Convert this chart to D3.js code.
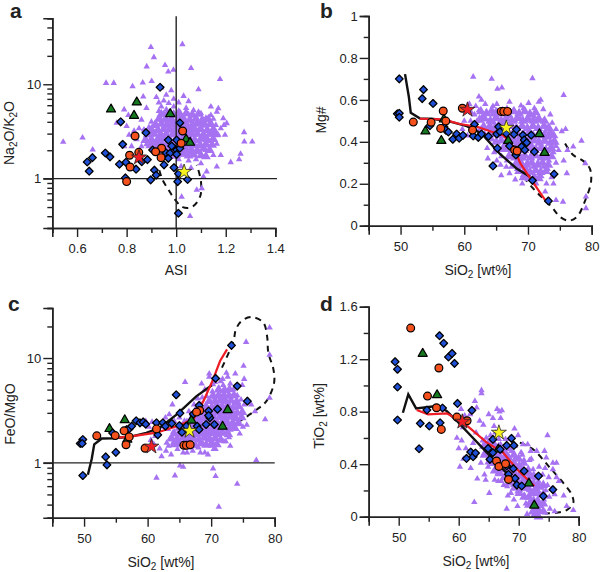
<!DOCTYPE html>
<html><head><meta charset="utf-8">
<script src="https://cdn.jsdelivr.net/npm/d3@7/dist/d3.min.js"></script>
<style>html,body{margin:0;padding:0;background:#fff}svg{display:block}text{font-family:"Liberation Sans",Arial,sans-serif;fill:#222}</style>
</head><body><div id="c"></div>
<script>
// ---- panel a: ASI vs Na2O/K2O
const purpleA=[[.898,24.7],[1.025,26.5],[.91,19.3],[.881,15.4],[.955,15.9],[.989,14.2],[.968,13.6],[1.06,14.8],[1.177,11.3],[.717,10.3],[.748,10.3],[.824,9.5],[.865,10.4],[.901,10.8],[1.09,8.8],[.544,2.45],[.622,2.72],[.663,2.03],[1.307,2.46],[1.274,3.1],[1.275,2.46],[1.26,1.83],[1.254,1.6],[1.22,1.49],[1.204,3.86],[1.19,4.35],[1.193,3.7],[1.17,5.55],[1.164,5.1],[1.14,5.8],[1.197,2.9],[1.164,2.33],[1.18,1.77],[1.15,1.77],[1.164,1.34],[1.123,1.19],[1.103,.79],[1.083,.76],[1.056,.4],[1.022,.64],[1.11,1.05],[.79,5.4],[.807,4.7],[.76,3.9],[.81,2.9],[.79,2.2],[.86,4.2],[.88,5.6],[.867,7.4],[.85,3.4],[.83,3.2],[.8,3.6],[.84,2.6],[.82,2.2],[.86,2.2],[.88,2.3],
[.88,2.6],[.9,2.4],[.92,2.2],[.9,2.9],[.87,3.3],[.89,3.5],[.91,3.1],[.93,2.7],[.94,2.4],[.95,2.1],[.96,1.85],[.93,3.3],[.92,3.8],[.94,4.2],[.9,4],[.95,3.6],[.96,3],[.97,2.6],[.98,2.9],[.99,2.4],[.97,3.4],[.98,3.9],[.96,4.4],[.95,4.9],[.93,5.2],[.94,5.8],[.96,5.4],[.98,4.7],[1,4.2],[1.01,3.6],[1,3.1],[1.01,2.7],[1.02,2.3],[1.03,2.9],[1.04,3.4],[1.03,4],[1.02,4.6],[1.01,5.2],[.99,5.8],[.97,6.3],[.95,6.7],[.93,6.4],[.92,7.3],[.96,7.7],[.99,7],[1.01,6.4],[1.04,5.6],[1.05,4.8],[1.06,4.1],[1.07,3.6],[1.05,3.1],[1.06,2.6],[1.04,2.1],[1.03,1.8],[1.01,1.6],[1.05,1.55],[1.07,2.2],[1.08,2.9],[1.09,3.3],[1.1,3.9],[1.08,4.5],[1.1,4.9],[1.12,4.4],[1.13,3.7],[1.12,3.2],[1.11,2.7],[1.1,2.3],[1.09,1.9],[1.12,2],[1.14,2.5],[1.15,3.1],[1.16,3.7],[1.15,4.3],[1.07,5.3],[.98,8.6],[.94,9.2],[1.03,7.5],[1.05,6.6],[1.08,1.6],[1.02,1.35],[1.06,1.3],[.99,1.7],[1.1,1.45],[.97,2.2],[1,2.2],[1.04,2.6],[1.07,2.9],[1.02,3.3],[.94,3],[.91,3.6],[.96,3.8],[1,3.7],[1.03,3.6],[1.06,3.4],[.99,3.4],[1.02,3.9],[1.13,2.9],[1.14,4.7],[1.18,3.4],[1.08,3.9],[1.09,2.5],[1.06,1.9],[1.12,2.4],[1.17,2.9],[.96,2.4],[.92,2.5],[.89,3]];
const purpleCoreA=[[.97,1.8],[1,1.78],[1.03,1.83],[1.05,1.75],[1.07,1.8],[1.1,1.76],[1.12,1.72],[.93,2],[.96,2.06],[.985,2],[1.01,2.05],[1.035,1.98],[1.06,2.04],[1.085,2],[1.11,2.08],[1.135,2],[.895,2.25],[.92,2.33],[.945,2.27],[.97,2.32],[.995,2.25],[1.02,2.35],[1.045,2.28],[1.07,2.33],[1.095,2.26],[1.12,2.3],[1.145,2.28],[.875,2.55],[.9,2.62],[.925,2.58],[.95,2.66],[.975,2.56],[1,2.63],[1.025,2.57],[1.05,2.65],[1.075,2.58],[1.1,2.63],[1.125,2.6],[1.15,2.62],[.885,2.92],[.91,2.98],[.935,2.9],[.96,2.97],[.985,2.93],[1.01,2.99],[1.035,2.9],[1.06,2.95],[1.085,3],[1.11,2.92],[1.135,2.98],[1.16,2.95],[.9,3.3],[.925,3.25],[.95,3.35],[.975,3.28],[1,3.33],[1.025,3.27],[1.05,3.36],[1.075,3.28],[1.1,3.33],[1.125,3.26],[1.15,3.35],[.915,3.72],[.94,3.8],[.965,3.7],[.99,3.78],[1.015,3.72],[1.04,3.82],[1.065,3.74],[1.09,3.8],[1.115,3.7],[1.14,3.78],[.93,4.3],[.955,4.2],[.98,4.28],[1.005,4.2],[1.03,4.32],[1.055,4.22],[1.08,4.3],[1.105,4.2],[1.13,4.25],[.94,4.8],[.965,4.9],[.99,4.75],[1.015,4.85],[1.04,4.9],[1.065,4.75],[1.09,4.85]];
const blueA=[[.935,9.3],[.776,4],[1.015,3.9],[.878,3.07],[.784,2.31],[.968,2.57],[1.002,2.57],[.714,1.87],[.733,1.7],[.662,1.67],[.641,1.5],[.649,1.2],[.771,1.42],[.797,1.49],[.838,1.26],[.795,1.02],[.861,1.51],[.884,1.59],[.905,2.01],[.912,1.23],[.919,1.09],[.897,.97],[.951,1.4],[.991,1.31],[1.009,1.13],[1.006,.93],[1.046,.98],[1.009,.43],[.982,2.22],[1.002,2.01],[.959,1.88],[.975,1.86],[.968,1.64],[1.002,1.81],[1.015,2.1]];
const orangeA=[[1.026,3.2],[.834,2.83],[1.02,2.37],[.941,2.1],[.917,1.93],[.939,1.67],[.849,1.9],[.812,1.77],[.814,1.33],[.8,.93]];
const greenA=[[.737,5.43],[.841,6.45],[.83,4.65],[.976,4.85],[1.04,2.61],[1.056,2.41]];
const redStarA=[[.85,1.68]], yellowStarA=[[1.032,1.18]];
const dashedA=[[.932,1.23],[.945,.97],[.968,.77],[.995,.6],[1.026,.5],[1.063,.5],[1.096,.64],[1.1,.93],[1.083,1.4]];
// ---- panel b: SiO2 vs Mg#
const purpleB=[[61.4,.71],[64.3,.7],[70.7,.703],[65.9,.658],[65.2,.652],[68.9,.572],[75.6,.623],[78.4,.405],[77.1,.377],[79,.297],[79.1,.138],[79.1,.083],[75.5,.114],[74.4,.122],[72.7,.162],[74,.2],[76.1,.25],[75.6,.31],[75.3,.45],[75.9,.46],[76.2,.36],[74.8,.36],[62.3,.615],[62.7,.6],[63.3,.58],[60.8,.58],[60.2,.56],[61.8,.57],[61.1,.54],[60,.5],[59.7,.46],[60.5,.43],[64.5,.57],[65.1,.58],[67.1,.59],[71.7,.59],[72,.6],[70.1,.585],[71,.56],[72.4,.555],[73.5,.53],[73.8,.49],[74.4,.46],[63.7,.32],[65.1,.31],[65.7,.29],[66.6,.28],[63.6,.37],[65.8,.24],[67.1,.25],[68,.22],[69.1,.2],[71.3,.2],[72.9,.2],[73.7,.23],[72.1,.235],[73.1,.27],[74.4,.3],
[61,.5],[61.6,.53],[62,.5],[62.3,.55],[62.8,.52],[63,.48],[63.4,.54],[63.9,.5],[64,.46],[64.4,.53],[64.7,.49],[65,.55],[65.3,.51],[65.7,.47],[66,.53],[66.3,.49],[66.7,.56],[67,.52],[67.2,.47],[67.7,.55],[68,.5],[68.3,.46],[68.7,.53],[69,.48],[69.3,.56],[69.7,.5],[70,.46],[70.3,.54],[70.7,.48],[71,.52],[71.4,.46],[71.7,.5],[72,.44],[72.4,.5],[72.7,.45],[73,.47],[73.3,.42],[73.7,.44],[74.1,.41],[74.4,.38],[74,.35],[73.6,.38],[73.2,.36],[73,.32],[72.7,.4],[72.3,.37],[72,.33],[72.4,.28],[71.7,.41],[71.3,.37],[71.6,.3],[71,.42],[70.7,.38],[70.4,.33],[70.8,.28],[70.2,.42],[69.8,.37],[69.4,.32],[69.8,.27],[69.4,.44],[69,.4],[68.7,.34],[69,.28],[68.5,.42],[68,.38],[67.7,.32],[68.3,.27],[67.5,.43],[67.1,.36],[66.7,.31],[66.6,.41],[66.2,.37],[65.8,.33],[65.6,.43],[65,.4],[64.7,.35],[64.4,.41],[63.8,.42],[67,.47],[66,.45],[64.6,.45],[62.5,.46],[68.8,.51],[70.5,.5],[72.6,.42],[71.2,.33],[70.1,.24],[69.2,.24],[70,.3],[68.4,.3],[67.4,.28],[73.3,.31],[71.9,.26],[67.9,.41],[69.9,.41],[68.9,.37],[66.4,.51],[65.1,.47],[63.2,.44],[61.8,.46]];
const purpleCoreB=[[62.6,.545],[63.5,.535],[64.3,.548],[65.2,.535],[66,.545],[66.9,.53],[67.8,.545],[68.6,.535],[69.5,.545],[70.3,.53],[71.2,.54],[62.4,.505],[63.2,.51],[64.1,.5],[64.9,.512],[65.8,.5],[66.6,.51],[67.5,.5],[68.3,.513],[69.2,.5],[70,.51],[70.9,.5],[71.7,.51],[72.6,.5],[63.1,.47],[64,.475],[64.8,.465],[65.7,.475],[66.5,.465],[67.4,.478],[68.2,.465],[69.1,.475],[69.9,.465],[70.8,.475],[71.6,.465],[72.5,.475],[73.3,.465],[64,.435],[64.9,.44],[65.7,.43],[66.6,.44],[67.4,.43],[68.3,.44],[69.1,.43],[70,.44],[70.8,.43],[71.7,.44],[72.5,.43],[73.4,.44],[74,.43],[65,.4],[65.8,.405],[66.7,.395],[67.5,.405],[68.4,.395],[69.2,.405],[70.1,.395],[70.9,.405],[71.8,.395],[72.6,.405],[73.5,.395],[74.2,.4],[66,.365],[66.9,.37],[67.7,.36],[68.6,.37],[69.4,.36],[70.3,.37],[71.1,.36],[72,.37],[72.8,.36],[73.7,.37],[67,.33],[67.8,.335],[68.7,.325],[69.5,.335],[70.4,.325],[71.2,.335],[72.1,.325],[72.9,.335],[73.7,.33],[68.1,.295],[68.9,.3],[69.8,.29],[70.6,.3],[71.5,.29],[72.3,.3],[73.2,.29],[68.6,.26],[69.5,.265],[70.3,.255],[71.2,.265],[72,.255],[72.8,.26],[69.3,.23],[70.2,.225],[71,.232],[71.7,.225]];
const blueB=[[49.8,.7],[53.6,.649],[53.4,.606],[55.1,.583],[49.5,.534],[49.8,.536],[49.8,.517],[54.6,.477],[56.8,.472],[57.1,.456],[57.5,.447],[58.2,.412],[58.8,.437],[59.2,.417],[59.8,.431],[61.6,.483],[61.4,.428],[62.2,.421],[62.7,.437],[63.8,.426],[64.5,.285],[65.2,.369],[65.4,.472],[65.1,.437],[65.6,.448],[66.6,.44],[67.1,.38],[67.8,.436],[68.2,.459],[68.1,.337],[69.2,.432],[69.4,.409],[69.8,.396],[69,.377],[69.5,.361],[70.5,.432],[71,.353],[70.7,.216],[73.2,.118],[74.1,.246]];
const orangeB=[[52,.494],[54.8,.493],[56.7,.547],[57.1,.499],[56.3,.464],[59.7,.56],[61.3,.456],[65.8,.545],[66.2,.545],[66.8,.545],[67.9,.361],[68.3,.356]];
const greenB=[[53.9,.45],[56.4,.405],[56.8,.507],[66.9,.405],[71.8,.437],[72.6,.348]];
const redStarB=[[60.5,.553]], yellowStarB=[[66.6,.467]];
const blackB=[[50.7,.723],[51.3,.615],[51.6,.539],[53,.512],[55.2,.509],[57.8,.496],[60.4,.475],[62.7,.44],[65.6,.342],[68.2,.273],[70.3,.234]];
const redLineB=[[53,.51],[56.7,.507],[59.3,.485],[62,.472],[64.3,.448],[66.1,.432],[67.7,.377],[68.8,.297],[70,.242],[72.7,.122]];
const dashedB=[[68.2,.273],[70.8,.178],[73.7,.09],[75,.043],[76.4,.024],[77.7,.043],[79,.122],[79.9,.21],[79.7,.273],[78.7,.308],[77.1,.337],[75.8,.393]];
// ---- panel c: SiO2 vs FeO/MgO
const purpleC=[[61.4,.72],[64.3,.757],[65.1,.94],[65.6,.915],[70.3,.883],[70.7,.746],[74.1,.63],[71.2,.38],[77.1,1.06],[78.5,2.6],[79.2,4.17],[79.2,10.7],[79.2,19.5],[75.1,8.4],[75.5,14.2],[65.9,5.9],[68.5,5.7],[69.7,7.1],[69.7,6.6],[73.8,7.1],[72.4,7.2],[72.6,6.6],[71.8,6.3],[70.6,5.9],[75.2,6.3],[74.9,5.5],[76.3,3.6],[76.9,3.1],[75.6,2.3],[75,2.2],[74.5,1.9],[74,2.1],[73,1.45],[72.3,1.6],[70.4,1.35],[69.5,1.2],[68.3,1.25],[67.1,1.3],[65.6,1.25],[64.7,1.35],[63.7,1.2],[62.2,1.15],[62.9,1.3],[61.9,1.37],[61,1.5],[60.5,1.65],[61.2,1.8],[60.2,2.2],[59.7,2.5],[60.7,2.45],[62.8,2.7],[63.4,2.9],[63.9,3.6],[62.5,2.2],
[63,1.55],[63.5,1.7],[63.3,1.45],[64,1.95],[64,1.55],[64.6,1.75],[64.8,2.15],[64.5,1.5],[65.2,1.85],[65.3,1.5],[65.5,2.3],[65.9,1.95],[66,1.65],[66.2,2.5],[66.4,1.4],[66.5,2.1],[66.8,1.8],[67,2.9],[67.1,1.5],[67.2,2.3],[67.5,1.95],[67.6,3.3],[67.7,2.6],[67.9,1.65],[68,1.4],[68.1,3],[68.2,2.2],[68.4,3.6],[68.5,1.85],[68.7,2.7],[68.8,1.5],[68.9,2.35],[69.1,3.3],[69.3,4.3],[69.3,2],[69.5,1.65],[69.6,2.9],[69.8,3.8],[69.9,2.4],[70,1.45],[70.2,3.2],[70.2,4.8],[70.4,2],[70.5,4.2],[70.6,2.7],[70.8,1.7],[70.9,3.7],[71,2.25],[71.1,5.1],[71.2,3.1],[71.4,4.4],[71.5,1.9],[71.6,2.7],[71.7,3.6],[71.9,5.5],[72,1.6],[72,4.1],[72.2,2.4],[72.3,3.1],[72.5,4.8],[72.6,2],[72.7,3.7],[72.9,2.8],[73.1,4.3],[73.2,2.3],[73.3,3.3],[73.5,5],[73.6,2.7],[73.8,3.7],[74,3],[74.1,4.4],[74.3,2.5],[74.5,3.4],[74.7,4],[75,3],[75.2,3.6],[68.6,4.2],[69,5],[67.9,4.1],[70.3,5.6],[71.5,6],[73,5.7],[65,2.7],[64.2,2.5],[63.2,2.1],[66.5,3.1],[70.7,1.35],[66.2,1.25],[72.8,1.75],[69,1.25],[67.3,3.6]];
const purpleCoreC=[[64.2,1.5],[65,1.55],[65.8,1.48],[66.7,1.54],[67.5,1.47],[68.4,1.53],[69.2,1.48],[70.1,1.55],[70.9,1.5],[63.8,1.7],[64.7,1.66],[65.5,1.73],[66.4,1.67],[67.2,1.72],[68.1,1.66],[68.9,1.73],[69.8,1.67],[70.6,1.72],[71.5,1.66],[64.2,1.9],[65,1.94],[65.9,1.87],[66.7,1.92],[67.6,1.86],[68.4,1.93],[69.3,1.87],[70.1,1.92],[71,1.87],[71.8,1.93],[72.7,1.87],[65.1,2.15],[66,2.1],[66.8,2.17],[67.7,2.11],[68.5,2.17],[69.4,2.1],[70.2,2.16],[71.1,2.11],[71.9,2.17],[72.8,2.11],[73.6,2.16],[65.8,2.4],[66.6,2.45],[67.5,2.38],[68.3,2.43],[69.2,2.37],[70,2.44],[70.9,2.38],[71.7,2.44],[72.6,2.37],[73.4,2.43],[74.3,2.38],[67.1,2.7],[68,2.75],[68.8,2.67],[69.7,2.74],[70.5,2.67],[71.4,2.75],[72.2,2.68],[73.1,2.74],[73.9,2.67],[74.8,2.72],[68.2,3.05],[69,3],[69.9,3.08],[70.7,3],[71.6,3.07],[72.4,3],[73.3,3.08],[74.1,3],[74.9,3.05],[69.2,3.45],[70.1,3.4],[70.9,3.48],[71.8,3.4],[72.6,3.47],[73.5,3.4],[74.3,3.46],[69.7,3.9],[70.6,3.85],[71.4,3.93],[72.3,3.85],[73.1,3.92],[74,3.85],[70.3,4.4],[71.1,4.35],[72,4.43],[72.8,4.35],[73.6,4.4],[71.2,5],[72.1,4.95],[72.9,5.03]];
const blueC=[[49.8,.757],[49.8,1.67],[49.4,1.53],[49.7,1.53],[53.4,1.14],[53.6,.957],[55,1.26],[54.5,1.93],[56.7,2.08],[57.1,2.11],[57.5,2.24],[58.2,2.52],[58.8,2.41],[59.3,2.46],[59.7,2.34],[61.4,2.41],[61.6,1.85],[62.4,2.41],[62.8,2.24],[63.8,2.38],[64.5,4.46],[65.1,2.98],[65,2.27],[65.4,1.96],[66.1,2.24],[67.2,2.92],[68.1,3.53],[67.8,2.24],[68.1,2.08],[69.6,3.12],[69.2,2.32],[69.8,2.69],[69.6,2.83],[70.5,2.32],[71,3.25],[70.7,6.39],[73.2,13.2],[74.1,5.4],[75.7,3.88]];
const orangeC=[[52,1.81],[54.9,1.82],[56.3,2.02],[57.1,1.77],[56.6,1.49],[59.6,1.38],[61.4,2.11],[65.7,1.47],[66.1,1.47],[66.7,1.49],[68.2,3.16],[67.7,3.05]];
const greenC=[[54,2.11],[56.4,2.56],[56.8,1.67],[66.9,2.54],[72.6,3.2],[71.8,2.22]];
const redStarC=[[60.6,1.43]], yellowStarC=[[66.6,2.02]];
const blackC=[[50.6,.77],[51.2,1.09],[51.6,1.5],[52.8,1.71],[54.6,1.72],[57.2,1.77],[59.8,1.93],[61.9,2.16],[64.6,2.9],[67.7,4.33],[70.1,5.5]];
const redLineC=[[54.6,1.72],[57.7,1.8],[61.4,1.94],[64.6,2.24],[67.2,2.6],[68.8,3.9],[70.3,6.25],[71.4,9.36],[72.5,12.1]];
const dashedC=[[71.7,8.09],[73.5,14.5],[73.9,18.8],[74.8,22.6],[76.4,24.6],[78.2,21.8],[78.8,16.2],[79,11.2],[79.8,7.8],[79.9,5.8],[78.7,3.88],[77.2,3.23],[74.5,2.5]];
// ---- panel d: SiO2 vs TiO2
const purpleD=[[63.8,.963],[63.8,.94],[62.7,.881],[63,.83],[61.9,.78],[60.4,.82],[61,.77],[60.7,.68],[59.7,.6],[60.5,.58],[60,.52],[61.2,.52],[60.8,.44],[60.2,.38],[62,.37],[63.1,.29],[64.5,.28],[65.1,.18],[62.6,.11],[64.3,.32],[66,.28],[66.5,.33],[67.1,.27],[68.2,.16],[68.7,.18],[69.2,.13],[69.8,.19],[68,.06],[69.8,.08],[71.2,.1],[72,.12],[71.4,.02],[72.1,.03],[72.5,.01],[73,.02],[74.8,.62],[74.3,.5],[75.7,.41],[76.3,.41],[75.7,.36],[74.6,.45],[75,.3],[76.3,.3],[76.7,.27],[77.5,.16],[78,.08],[79.1,.05],[76,.04],[74.4,.03],[75.2,.06],[64.1,.7],[65,.78],[65.7,.75],[66.4,.82],[66.8,.8],[67.2,.81],[67,.75],[65.9,.69],[69.3,.67],[69.9,.62],[70.7,.55],[71.5,.55],[72,.5],[73,.5],[72.1,.44],[70.6,.47],[63.5,.73],[62.9,.64],[62.4,.56],[66.1,.64],
[64,.58],[64.4,.55],[64.2,.48],[64.8,.5],[65,.45],[65.2,.55],[65.4,.48],[65.5,.4],[65.9,.52],[66.1,.44],[66.3,.36],[66.6,.5],[66.8,.41],[67,.55],[67.1,.46],[67.3,.35],[67.5,.52],[67.7,.42],[67.9,.3],[68,.48],[68.2,.37],[68.5,.42],[68.6,.28],[68.8,.5],[69,.38],[69.1,.24],[69.3,.32],[69.5,.45],[69.7,.36],[69.9,.28],[70.1,.4],[70.2,.2],[70.4,.32],[70.7,.25],[70.9,.43],[71,.16],[71.1,.32],[71.4,.26],[71.6,.37],[71.7,.2],[71.9,.3],[72.1,.11],[72.3,.24],[72.4,.36],[72.5,.17],[72.7,.29],[72.8,.06],[73,.21],[73.1,.13],[73.3,.27],[73.5,.16],[73.7,.08],[73.8,.22],[74,.32],[74.2,.13],[74.5,.2],[74.8,.24],[75.1,.15],[75.5,.21],[76,.17],[72.6,.02],[72.9,.09],[72,.18],[70.5,.37],[68.1,.23],[67.5,.24],[66.6,.27],[64.9,.38],[63.7,.41],[65.3,.62],[64.6,.6],[67.8,.59],[68.5,.59],[69.4,.54],[70.4,.49],[71.8,.43],[73.4,.38],[74.4,.37],[66.7,.59]];
const purpleCoreD=[[64.2,.54],[64.3,.47],[65,.56],[65.1,.49],[65.1,.42],[65.9,.55],[65.9,.48],[66,.41],[66,.35],[66.7,.53],[66.7,.46],[66.8,.39],[66.8,.33],[67.5,.5],[67.5,.44],[67.6,.37],[67.6,.3],[68.3,.52],[68.3,.45],[68.4,.39],[68.4,.33],[68.4,.26],[69.2,.47],[69.2,.41],[69.2,.34],[69.3,.28],[69.3,.22],[70,.44],[70,.38],[70,.31],[70.1,.25],[70.1,.18],[70.8,.41],[70.8,.35],[70.8,.28],[70.9,.22],[70.9,.15],[71.6,.34],[71.6,.28],[71.6,.22],[71.7,.15],[71.7,.09],[72.5,.31],[72.5,.25],[72.5,.19],[72.5,.12],[72.5,.05],[73.3,.24],[73.3,.18],[73.3,.11],[73.3,.05],[73.3,0],[74.1,.24],[74.1,.17],[74.1,.1],[74.1,.04]];
const blueD=[[49.4,1.181],[49.8,1.123],[49.8,.988],[49.8,.737],[53.6,.711],[53.4,.518],[55.1,.691],[54.7,.813],[56.8,1.379],[57.5,1.321],[58.3,1.217],[58.9,1.244],[59.3,1.168],[56.9,.716],[57.3,.828],[59.8,.863],[62.2,.81],[61.3,.444],[62,.493],[62.4,.457],[62.8,.485],[65.2,.437],[65.7,.488],[65.7,.589],[64.9,.52],[68,.543],[68.8,.597],[69.2,.543],[66.9,.513],[69.1,.366],[68.3,.323],[69.4,.292],[69.7,.241],[70.5,.234],[70.9,.348],[73.3,.31],[75.7,.206],[74.1,.157],[68,.386]];
const orangeD=[[52,1.437],[56.7,1.133],[54.8,.919],[56.3,.83],[57.1,.665],[59.7,.759],[61.4,.731],[66.3,.424],[66.7,.383],[67.8,.404],[68.3,.284]];
const greenD=[[54,1.242],[56.4,.927],[66.6,.513],[71.7,.254],[72.6,.086]];
const redStarD=[[60.6,.724]], yellowStarD=[[66.7,.64]];
const blackD=[[50.7,.792],[51.6,.932],[52.9,.825],[56.3,.843],[58,.805],[59.7,.729],[64.7,.488],[67.4,.36],[70.2,.234]];
const redLineD=[[53,.813],[54.9,.78],[58,.787],[60.8,.716],[64.7,.564],[67.4,.488],[69.7,.361],[72.6,.234]];
const dashedD=[[70.2,.564],[72.4,.513],[75.2,.373],[77.4,.259],[78.8,.17],[79.1,.107],[78,.05],[76.3,.03],[74.4,.025]];
// ---- axes
const asiMajor=[.6,.8,1,1.2,1.4], asiMinor=[.5,.7,.9,1.1,1.3];
const sioMajor=[50,60,70,80], sioMinor=[45,55,65,75];
const logMajorA=[1,10], logMinorA=[.3,.4,.5,.6,.7,.8,.9,2,3,4,5,6,7,8,9,20,30,40,50];
const logMajorC=[1,10], logMinorC=[.3,.4,.5,.6,.7,.8,.9,2,3,4,5,6,7,8,9,20,30];
const mgMajor=[0,.2,.4,.6,.8,1], mgMinor=[.1,.3,.5,.7,.9];
const tiMajor=[0,.4,.8,1.2,1.6], tiMinor=[.2,.6,1,1.4];

const svg=d3.select("#c").append("svg").attr("width",600).attr("height",572);
const PURPLE="#a672f2",BLUE="#1f50d8",ORANGE="#f4511c",GREEN="#157a1f",INK="#222";
const diamond=d3.symbol(d3.symbolSquare,30)();
const tri=s=>d3.symbol(d3.symbolTriangle,s)();
const star=d3.symbol(d3.symbolStar,70)();

function panel(o){
  const x=d3.scaleLinear().domain(o.xd).range(o.xr);
  const y=(o.yLog?d3.scaleLog():d3.scaleLinear()).domain(o.yd).range(o.yr);
  const g=svg.append("g");
  const pt=(s,sel)=>g.append("g").selectAll("path").data(s).join("path").attr("transform",d=>`translate(${x(d[0])},${y(d[1])})`+(sel.rot?" rotate(45)":"")).attr("d",sel.d).attr("fill",sel.fill).attr("stroke",sel.stroke||"none").attr("stroke-width",sel.sw||0).attr("stroke-linejoin","round");
  const line=d3.line().x(d=>x(d[0])).y(d=>y(d[1])).curve(d3.curveLinear);
  const smooth=d3.line().x(d=>x(d[0])).y(d=>y(d[1])).curve(d3.curveCatmullRom);
  if(o.dashed) g.append("path").attr("d",smooth(o.dashed)).attr("fill","none").attr("stroke","#111").attr("stroke-width",2).attr("stroke-dasharray","6,5");
  pt(o.purple,{d:tri(18),fill:PURPLE});
  pt(o.core,{d:tri(42),fill:PURPLE});
  if(o.black) g.append("path").attr("d",line(o.black)).attr("fill","none").attr("stroke","#111").attr("stroke-width",2.4);
  if(o.redLine) g.append("path").attr("d",line(o.redLine)).attr("fill","none").attr("stroke","#ee1c24").attr("stroke-width",2.2);
  (o.refs||[]).forEach(r=>{
    if(r.h!==undefined) g.append("line").attr("x1",o.xr[0]-9).attr("x2",o.refEnd).attr("y1",y(r.h)).attr("y2",y(r.h)).attr("stroke",INK).attr("stroke-width",1.4);
    else g.append("line").attr("x1",x(r.v)).attr("x2",x(r.v)).attr("y1",o.yr[0]).attr("y2",o.yr[1]-2).attr("stroke",INK).attr("stroke-width",1.4);
  });
  pt(o.green,{d:tri(36),fill:GREEN,stroke:"#000",sw:1.2});
  pt(o.blue,{d:diamond,fill:BLUE,stroke:"#000",sw:1.3,rot:true});
  g.append("g").selectAll("circle").data(o.orange).join("circle").attr("cx",d=>x(d[0])).attr("cy",d=>y(d[1])).attr("r",3.9).attr("fill",ORANGE).attr("stroke","#000").attr("stroke-width",1.2);
  pt(o.yStar,{d:star,fill:"#f6f21e",stroke:"#222",sw:.8});
  pt(o.rStar,{d:star,fill:"#ee1c24",stroke:"#222",sw:.8});
  // axes
  const xa=d3.axisBottom(x).tickValues(o.xMaj).tickSize(9).tickFormat(o.xFmt);
  const xm=d3.axisBottom(x).tickValues(o.xMin).tickSize(5).tickFormat("");
  const ya=d3.axisLeft(y).tickValues(o.yMaj).tickSize(9).tickFormat(o.yFmt);
  const ym=d3.axisLeft(y).tickValues(o.yMin).tickSize(5).tickFormat("");
  const ax=(gen,t)=>{const a=g.append("g").attr("transform",t).call(gen);
    a.select(".domain").attr("stroke",INK).attr("stroke-width",1.6);
    a.selectAll("line").attr("stroke",INK).attr("stroke-width",1.4);
    a.selectAll("text").attr("font-size",13).attr("fill","#222");return a;};
  ax(xm,`translate(0,${o.yr[0]})`);
  ax(xa,`translate(0,${o.yr[0]})`).selectAll("text").attr("dy",0).attr("y",25);
  ax(ym,`translate(${o.xr[0]},0)`);
  ax(ya,`translate(${o.xr[0]},0)`).selectAll("text").attr("x",-11);
  const rich=(parent,parts)=>{parts.forEach(([s,sub],i)=>{const ts=parent.append("tspan").text(s);
      if(sub){ts.attr("font-size",10).attr("dy",3);}else if(i>0&&parts[i-1][1]){ts.attr("dy",-3);}});};
  const xt=g.append("text").attr("x",o.xt[0]).attr("y",o.xt[1]).attr("text-anchor","middle").attr("font-size",14);rich(xt,o.xTitle);
  const yt=g.append("text").attr("transform",`translate(${o.yt[0]},${o.yt[1]}) rotate(-90)`).attr("text-anchor","middle").attr("font-size",14);rich(yt,o.yTitle);
  g.append("text").attr("x",o.let[0]).attr("y",o.let[1]).attr("font-size",21).attr("font-weight","bold").attr("fill","#111").text(o.letter);
}
const f1=d3.format(".1f"), f0=d3.format("d");
const sioTitle=[["SiO"],["2",1],[" [wt%]"]];
panel({letter:"a",let:[10,18],xd:[.5,1.4],xr:[52.3,275.3],yLog:true,yd:[.3,50],yr:[228,18.3],
  purple:purpleA,core:purpleCoreA,blue:blueA,orange:orangeA,green:greenA,rStar:redStarA,yStar:yellowStarA,dashed:dashedA,
  refs:[{h:1},{v:1}],refEnd:277,xMaj:asiMajor,xMin:asiMinor,yMaj:logMajorA,yMin:logMinorA,xFmt:f1,yFmt:f0,
  xTitle:[["ASI"]],xt:[176,275],yTitle:[["Na"],["2",1],["O/K"],["2",1],["O"]],yt:[14,133]});
panel({letter:"b",let:[320,18],xd:[45,80],xr:[368.7,591.7],yd:[0,1],yr:[225.7,16],
  purple:purpleB,core:purpleCoreB,blue:blueB,orange:orangeB,green:greenB,rStar:redStarB,yStar:yellowStarB,dashed:dashedB,black:blackB,redLine:redLineB,
  xMaj:sioMajor,xMin:sioMinor,yMaj:mgMajor,yMin:mgMinor,xFmt:f0,yFmt:d=>(d===0||d===1)?f0(d):f1(d),
  xTitle:sioTitle,xt:[478,275],yTitle:[["Mg#"]],yt:[326,120]});
panel({letter:"c",let:[8,311],xd:[45,80],xr:[52.3,274.7],yLog:true,yd:[.3,30],yr:[517.7,308],
  purple:purpleC,core:purpleCoreC,blue:blueC,orange:orangeC,green:greenC,rStar:redStarC,yStar:yellowStarC,dashed:dashedC,black:blackC,redLine:redLineC,
  refs:[{h:1}],refEnd:274.7,xMaj:sioMajor,xMin:sioMinor,yMaj:logMajorC,yMin:logMinorC,xFmt:f0,yFmt:f0,
  xTitle:sioTitle,xt:[161,567],yTitle:[["FeO/MgO"]],yt:[15,414]});
panel({letter:"d",let:[320,311],xd:[45,80],xr:[368.7,578.7],yd:[0,1.6],yr:[516.7,306.7],
  purple:purpleD,core:purpleCoreD,blue:blueD,orange:orangeD,green:greenD,rStar:redStarD,yStar:yellowStarD,dashed:dashedD,black:blackD,redLine:redLineD,
  xMaj:sioMajor,xMin:sioMinor,yMaj:tiMajor,yMin:tiMinor,xFmt:f0,yFmt:d=>d===0?"0":f1(d),
  xTitle:sioTitle,xt:[476,566],yTitle:[["TiO"],["2",1],[" [wt%]"]],yt:[324,416]});
</script></body></html>
